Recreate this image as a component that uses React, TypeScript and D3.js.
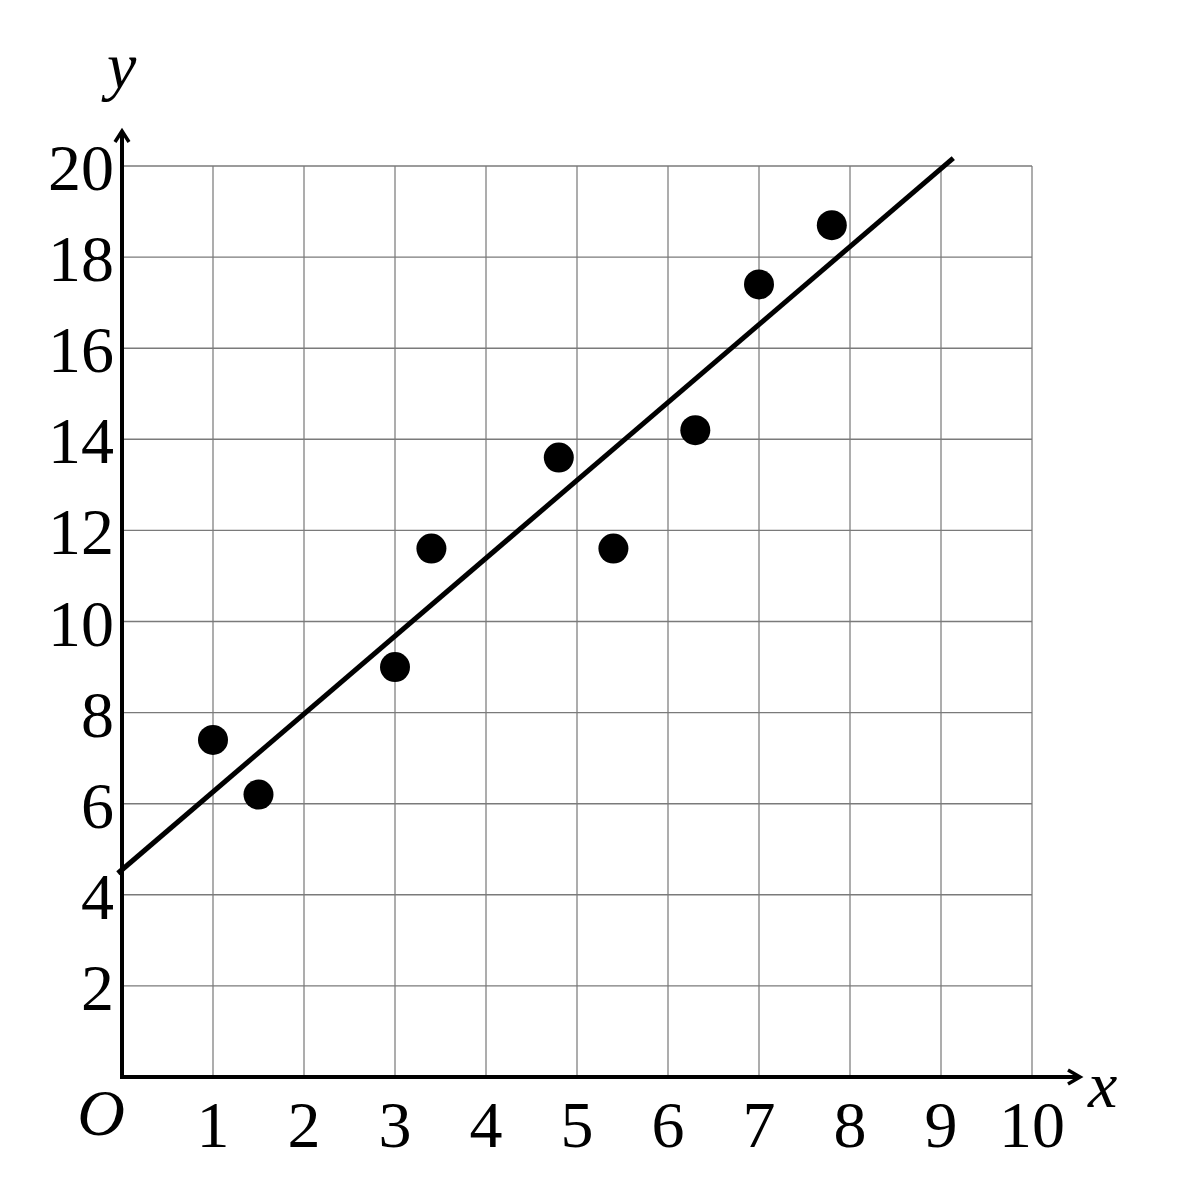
import React from "react";
import * as d3 from "d3";

const xTicks = [1, 2, 3, 4, 5, 6, 7, 8, 9, 10];
const yTicks = [2, 4, 6, 8, 10, 12, 14, 16, 18, 20];
const pointsX = [1, 1.5, 3, 3.4, 4.8, 5.4, 6.3, 7, 7.8];
const pointsY = [7.4, 6.2, 9, 11.6, 13.6, 11.6, 14.2, 17.4, 18.7];
const lineSlope = 1.71;
const lineIntercept = 4.55;
const lineXRange = [-0.045, 9.135];

export default function App() {
  const x = d3.scaleLinear().domain([0, 10]).range([122, 1032]);
  const y = d3.scaleLinear().domain([0, 20]).range([1077, 166]);
  const font = "'Liberation Serif', 'Times New Roman', serif";
  const lineGen = d3
    .line<number>()
    .x((d) => x(d))
    .y((d) => y(lineSlope * d + lineIntercept));
  const x0 = x(0);
  const y0 = y(0);
  return (
    <svg
      width={1200}
      height={1200}
      style={{ position: "absolute", left: 0, top: 0, background: "#fff" }}
    >
      <rect width={1200} height={1200} fill="#fff" />
      {xTicks.map((t) => (
        <line key={"gx" + t} x1={x(t)} x2={x(t)} y1={y(0)} y2={y(20)} stroke="#8a8a8a" strokeWidth={1.4} />
      ))}
      {yTicks.map((t) => (
        <line key={"gy" + t} x1={x(0)} x2={x(10)} y1={y(t)} y2={y(t)} stroke="#7a7a7a" strokeWidth={1.4} />
      ))}
      {/* axes */}
      <line x1={x0} x2={x0} y1={y0 + 2} y2={131} stroke="#000" strokeWidth={4} />
      <line x1={x0 - 2} x2={1080} y1={y0} y2={y0} stroke="#000" strokeWidth={4} />
      <polyline points={`${x0 - 7},${142} ${x0},${131} ${x0 + 7},${142}`} fill="none" stroke="#000" strokeWidth={3.5} />
      <polyline points={`${1068},${y0 - 7} ${1080},${y0} ${1068},${y0 + 7}`} fill="none" stroke="#000" strokeWidth={3.5} />
      {/* regression line */}
      <path d={lineGen(lineXRange) || ""} fill="none" stroke="#000" strokeWidth={5} />
      {/* points */}
      {pointsX.map((px, i) => (
        <circle key={"p" + i} cx={x(px)} cy={y(pointsY[i])} r={15} fill="#000" />
      ))}
      {/* y tick labels */}
      {yTicks.map((t) => (
        <text key={"ly" + t} x={114} y={y(t) + 24} textAnchor="end" fontFamily={font} fontSize={66} fill="#000">
          {t}
        </text>
      ))}
      {/* x tick labels */}
      {xTicks.map((t) => (
        <text key={"lx" + t} x={x(t)} y={1147} textAnchor="middle" fontFamily={font} fontSize={66} fill="#000">
          {t}
        </text>
      ))}
      <text x={101} y={1135} textAnchor="middle" fontFamily={font} fontStyle="italic" fontSize={66} fill="#000">
        O
      </text>
      <text x={1088} y={1107} fontFamily={font} fontStyle="italic" fontSize={66} fill="#000">
        x
      </text>
      <text x={107} y={88} fontFamily={font} fontStyle="italic" fontSize={66} fill="#000">
        y
      </text>
    </svg>
  );
}
